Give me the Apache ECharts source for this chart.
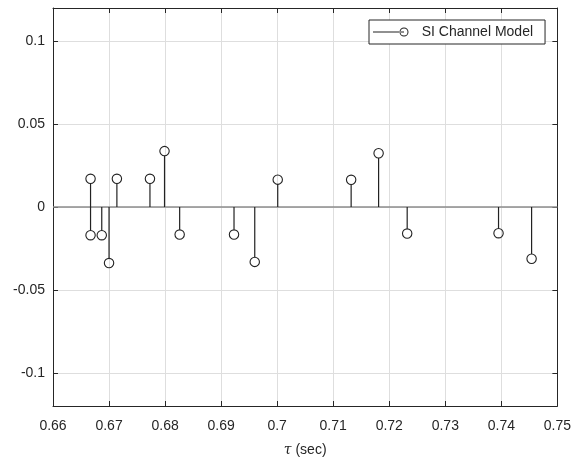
<!DOCTYPE html>
<html>
<head>
<meta charset="utf-8">
<script src="https://cdn.jsdelivr.net/npm/echarts@6/dist/echarts.min.js"></script>
<style>
  html, body { margin: 0; padding: 0; background: #fff; }
  #chart { width: 574px; height: 462px; }
</style>
</head>
<body>
<div id="chart"></div>
<script>
// stem 数据 (时延 tau, 幅度)
const tau = [0.6667, 0.6667, 0.6687, 0.6700, 0.6714, 0.6773, 0.6799, 0.6826,
             0.6923, 0.6960, 0.7001, 0.7132, 0.7181, 0.7232, 0.7395, 0.7454]
const amp = [0.0170, -0.0170, -0.0170, -0.0338, 0.0170, 0.0170, 0.0337, -0.0166,
             -0.0166, -0.0331, 0.0165, 0.0164, 0.0324, -0.0160, -0.0158, -0.0312]
const xTicks = [0.66, 0.67, 0.68, 0.69, 0.70, 0.71, 0.72, 0.73, 0.74, 0.75]
const yTicks = [-0.1, -0.05, 0, 0.05, 0.1]
const seriesName = "SI Channel Model"

const textColor = "#262626"
const gridColor = "#dedede"
const stemColor = "#222"
const font = "Liberation Sans"

const seriesData = tau.map((t, i) => [t, amp[i]])

// 图例图标: 横线 + 空心圆
const legendIcon =
  "path://M0,4.5 L31,4.5 L31,5.5 L0,5.5 Z " +
  "M26.5,5 A4.5,4.5 0 1,0 35.5,5 A4.5,4.5 0 1,0 26.5,5 Z " +
  "M27.5,5 A3.5,3.5 0 1,1 34.5,5 A3.5,3.5 0 1,1 27.5,5 Z"

const frameLine = { show: true, onZero: false, lineStyle: { color: textColor, width: 1 } }
const frameTick = { show: true, inside: true, length: 5, lineStyle: { color: textColor } }

let option = {
  animation: false,
  backgroundColor: "#fff",
  grid: { left: 53, right: 14, top: 8, bottom: 53 },
  legend: {
    data: [{ name: seriesName, icon: legendIcon }],
    left: 369,
    top: 20,
    padding: [5, 12, 5, 4],
    itemWidth: 38,
    itemHeight: 9,
    backgroundColor: "#fff",
    borderColor: textColor,
    borderWidth: 1,
    borderRadius: 0,
    itemStyle: { color: stemColor },
    textStyle: { fontFamily: font, fontSize: 14, color: textColor, padding: [0, 0, 0, 7] },
  },
  xAxis: [
    {
      type: "value",
      min: xTicks[0],
      max: xTicks[xTicks.length - 1],
      interval: 0.01,
      position: "bottom",
      axisLine: frameLine,
      axisTick: frameTick,
      axisLabel: {
        margin: 13,
        fontFamily: font,
        fontSize: 14,
        color: textColor,
        formatter: v => String(+v.toFixed(2)),
      },
      splitLine: { show: true, lineStyle: { color: gridColor, width: 1 } },
      name: "{i|τ} (sec)",
      nameLocation: "middle",
      nameGap: 37,
      nameTextStyle: {
        fontFamily: font,
        fontSize: 14,
        color: textColor,
        rich: { i: { fontFamily: "DejaVu Serif", fontStyle: "italic", fontSize: 14, color: textColor } },
      },
    },
    {
      type: "value",
      min: xTicks[0],
      max: xTicks[xTicks.length - 1],
      interval: 0.01,
      position: "top",
      axisLine: frameLine,
      axisTick: frameTick,
      axisLabel: { show: false },
      splitLine: { show: false },
    },
  ],
  yAxis: [
    {
      type: "value",
      min: -0.12,
      max: 0.12,
      position: "left",
      axisLine: frameLine,
      axisTick: { ...frameTick, customValues: yTicks },
      axisLabel: {
        margin: 8,
        fontFamily: font,
        fontSize: 14,
        color: textColor,
        customValues: yTicks,
        formatter: v => String(+v.toFixed(2)),
      },
      splitLine: { show: true, lineStyle: { color: gridColor, width: 1 } },
    },
    {
      type: "value",
      min: -0.12,
      max: 0.12,
      position: "right",
      axisLine: frameLine,
      axisTick: { ...frameTick, customValues: yTicks },
      axisLabel: { show: false, customValues: yTicks },
      splitLine: { show: false },
    },
  ],
  series: [
    {
      name: seriesName,
      type: "custom",
      xAxisIndex: 0,
      yAxisIndex: 0,
      itemStyle: { color: stemColor },
      renderItem: (params, api) => {
        const top = api.coord([api.value(0), api.value(1)])
        const base = api.coord([api.value(0), 0])
        const r = 4.7
        const dir = top[1] < base[1] ? 1 : -1 // 杆子停在圆边上
        return {
          type: "group",
          children: [
            {
              type: "line",
              shape: { x1: base[0], y1: base[1], x2: top[0], y2: top[1] + dir * r },
              style: { stroke: stemColor, lineWidth: 1.2 },
            },
            {
              type: "circle",
              shape: { cx: top[0], cy: top[1], r: r },
              style: { fill: "none", stroke: stemColor, lineWidth: 1.1 },
            },
          ],
        }
      },
      markLine: {
        silent: true,
        symbol: "none",
        label: { show: false },
        lineStyle: { color: "#8c8c8c", width: 1.5, type: "solid" },
        data: [{ yAxis: 0 }],
        z: 1,
      },
      data: seriesData,
    },
  ],
}

const chart = echarts.init(document.getElementById("chart"))
chart.setOption(option)
</script>
</body>
</html>
